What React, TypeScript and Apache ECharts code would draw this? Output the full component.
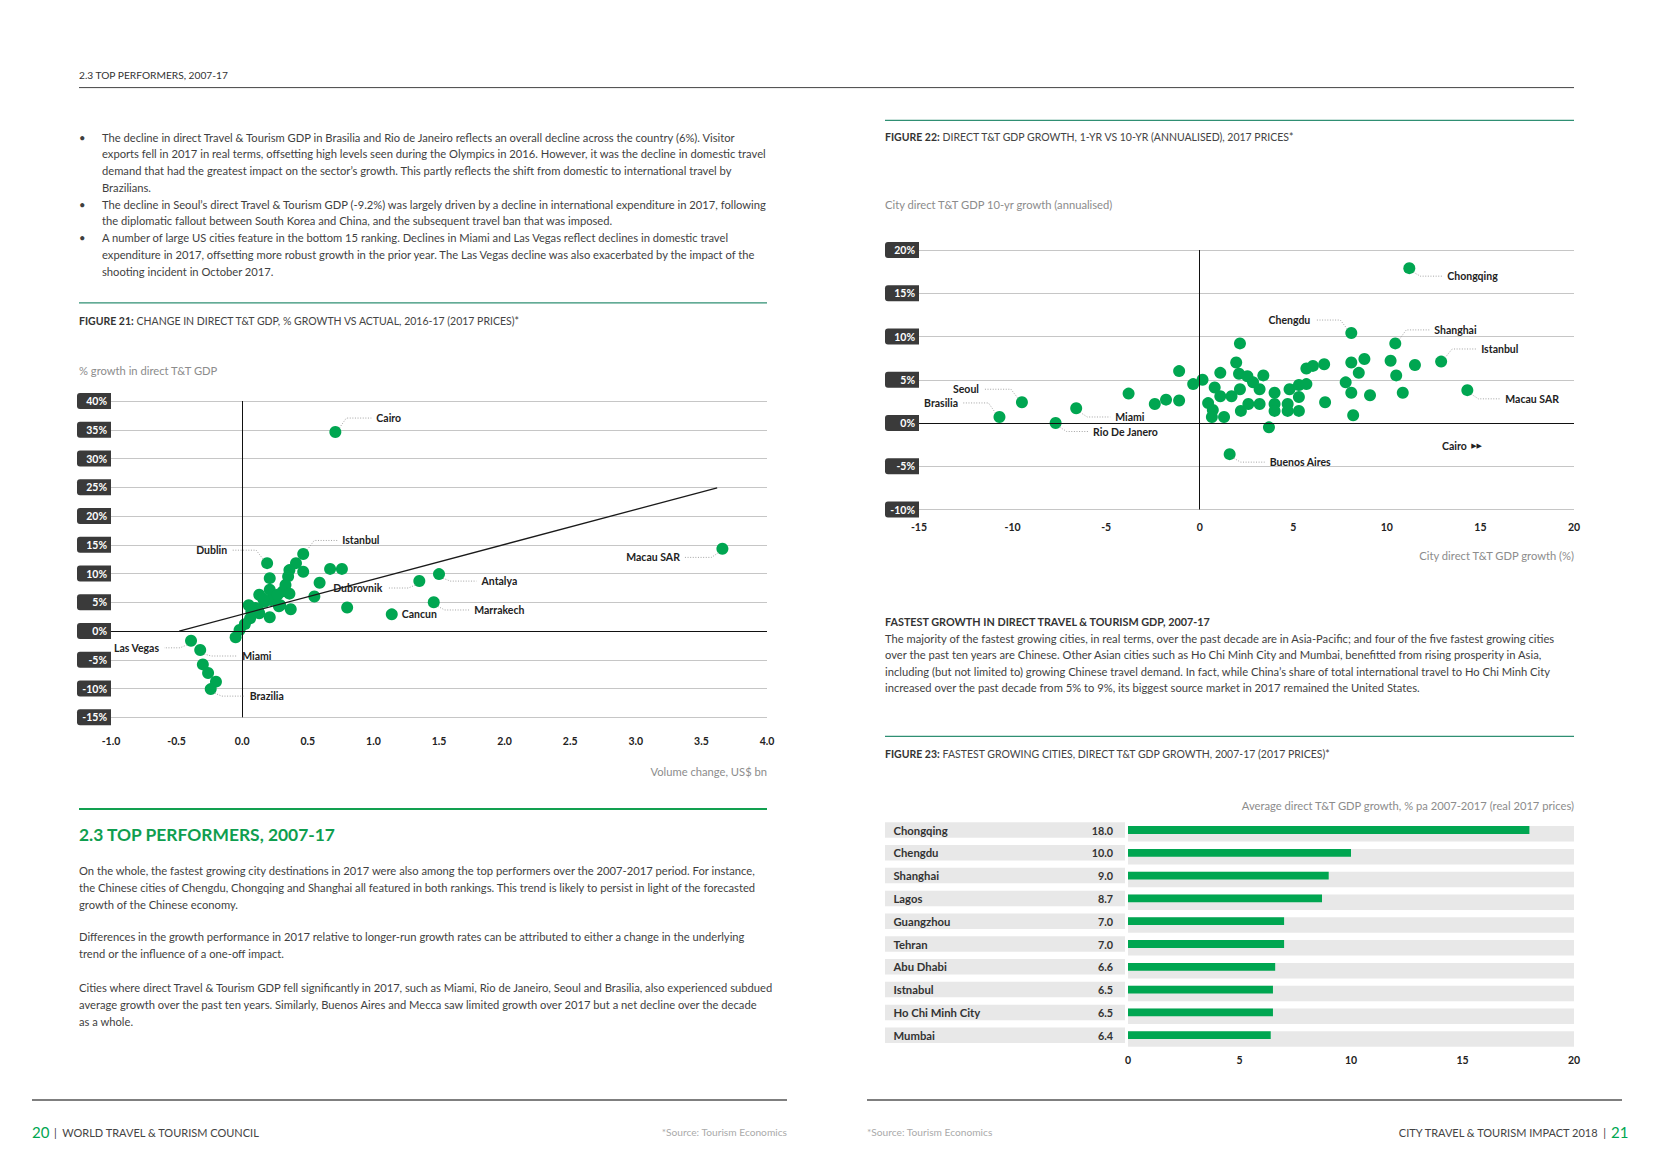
import React, { useEffect, useRef } from "react";
import * as echarts from "echarts";

const GREEN = "#00a651";
const TEAL = "#2f8f73";
const TEXT = "#3f3f3f";
const GREY = "#8c8c8c";
const DARK = "#222222";
const FONT = "Lato, 'Open Sans', 'DejaVu Sans', sans-serif";
const BODY = 11.2;

// ---------- Figure 21: change in direct T&T GDP, % growth vs actual ----------
const fig21XTicks = [-1.0, -0.5, 0.0, 0.5, 1.0, 1.5, 2.0, 2.5, 3.0, 3.5, 4.0];
const fig21YTicks = [-15, -10, -5, 0, 5, 10, 15, 20, 25, 30, 35, 40];
const fig21LabelNames = ["Cairo", "Istanbul", "Dublin", "Dubrovnik", "Antalya", "Marrakech", "Cancun", "Macau SAR", "Las Vegas", "Miami", "Brazilia"];
const fig21LabelX = [0.71, 0.465, 0.19, 1.35, 1.5, 1.46, 1.14, 3.66, -0.39, -0.32, -0.24];
const fig21LabelY = [34.6, 13.4, 11.8, 8.7, 9.9, 5.0, 2.9, 14.3, -1.7, -3.3, -10.1];
const fig21OtherX = [0.8, 0.76, 0.67, 0.59, 0.55, 0.465, 0.41, 0.36, 0.35, 0.33, 0.31, 0.36, 0.37, 0.29, 0.24, 0.21, 0.21, 0.21, 0.17, 0.13, 0.12, 0.07, 0.05, 0.06, 0.02, -0.02, -0.05, -0.3, -0.26, -0.2, 0.13, 0.28, 0.22, 0.16, 0.27, 0.1];
const fig21OtherY = [4.1, 10.8, 10.8, 8.4, 6.0, 10.3, 11.8, 10.6, 9.5, 8.0, 6.9, 6.5, 3.8, 4.5, 5.7, 9.2, 7.2, 2.4, 5.1, 6.3, 3.7, 3.4, 4.5, 2.2, 1.2, 0.2, -1.1, -5.8, -7.3, -8.8, 3.1, 4.3, 5.4, 5.6, 6.3, 4.0];
const fig21TrendX = [-0.48, 3.62];
const fig21TrendY = [0.0, 24.9];

// ---------- Figure 22: 1-yr vs 10-yr growth ----------
const fig22XTicks = [-15, -10, -5, 0, 5, 10, 15, 20];
const fig22YTicks = [-10, -5, 0, 5, 10, 15, 20];
const fig22LabelNames = ["Chongqing", "Chengdu", "Shanghai", "Istanbul", "Macau SAR", "Seoul", "Brasilia", "Miami", "Rio De Janero", "Buenos Aires"];
const fig22LabelX = [11.2, 8.1, 10.45, 12.9, 14.3, -9.5, -10.7, -6.6, -7.7, 1.6];
const fig22LabelY = [17.9, 10.4, 9.2, 7.1, 3.8, 2.4, 0.7, 1.7, 0.0, -3.6];
const fig22OtherX = [-3.8, -2.4, -1.8, -1.1, -1.1, -0.35, 0.15, 0.45, 0.7, 0.65, 0.8, 1.1, 1.1, 1.3, 1.7, 1.95, 2.15, 2.1, 2.15, 2.2, 2.55, 2.6, 2.85, 3.2, 3.2, 3.4, 3.7, 4.0, 4.0, 4.0, 4.7, 4.7, 4.8, 5.3, 5.3, 5.3, 5.7, 5.7, 6.05, 6.65, 6.7, 7.8, 8.1, 8.1, 8.2, 8.5, 8.8, 9.1, 10.2, 10.5, 10.85, 11.5];
const fig22OtherY = [3.4, 2.2, 2.7, 2.6, 6.0, 4.5, 5.0, 2.3, 1.5, 0.7, 4.1, 5.8, 3.1, 0.7, 3.1, 7.0, 9.2, 5.7, 3.9, 1.4, 5.4, 2.2, 4.7, 3.9, 2.2, 5.5, -0.5, 3.5, 2.2, 1.4, 2.2, 1.4, 3.9, 4.4, 3.0, 1.4, 4.5, 6.3, 6.6, 6.8, 2.4, 4.7, 7.0, 3.5, 0.9, 5.8, 7.4, 3.2, 7.2, 5.5, 3.5, 6.7];

// ---------- Figure 23: fastest growing cities ----------
const fig23Cities = ["Chongqing", "Chengdu", "Shanghai", "Lagos", "Guangzhou", "Tehran", "Abu Dhabi", "Istnabul", "Ho Chi Minh City", "Mumbai"];
const fig23Values = [18.0, 10.0, 9.0, 8.7, 7.0, 7.0, 6.6, 6.5, 6.5, 6.4];
const fig23XTicks = [0, 5, 10, 15, 20];

// ---------- label placement (pixel offsets from the point) ----------
type LP = { dx: number; dy: number; align: "left" | "right"; leader?: boolean };
const fig21LabelPos: Record<string, LP> = {
  Cairo: { dx: 41, dy: -14, align: "left" },
  Istanbul: { dx: 39, dy: -13.5, align: "left" },
  Dublin: { dx: -40, dy: -13, align: "right" },
  Dubrovnik: { dx: -37, dy: 7, align: "right" },
  Antalya: { dx: 42.5, dy: 7, align: "left" },
  Marrakech: { dx: 40.5, dy: 7.7, align: "left" },
  Cancun: { dx: 10, dy: 0, align: "left", leader: false },
  "Macau SAR": { dx: -42.5, dy: 8.6, align: "right" },
  "Las Vegas": { dx: -32, dy: 7, align: "right" },
  Miami: { dx: 42, dy: 6, align: "left" },
  Brazilia: { dx: 39, dy: 7, align: "left" },
};
const fig22LabelPos: Record<string, LP> = {
  Chongqing: { dx: 38, dy: 8, align: "left" },
  Chengdu: { dx: -41, dy: -13, align: "right" },
  Shanghai: { dx: 39, dy: -13.5, align: "left" },
  Istanbul: { dx: 40, dy: -12.6, align: "left" },
  "Macau SAR": { dx: 38, dy: 8.7, align: "left" },
  Seoul: { dx: -43, dy: -13, align: "right" },
  Brasilia: { dx: -41.5, dy: -14, align: "right" },
  Miami: { dx: 39, dy: 8.7, align: "left" },
  "Rio De Janero": { dx: 37.5, dy: 8.5, align: "left" },
  "Buenos Aires": { dx: 40, dy: 8, align: "left" },
};

// ---------- page texts ----------
const bulletLines = [
  ["The decline in direct Travel & Tourism GDP in Brasilia and Rio de Janeiro reflects an overall decline across the country (6%). Visitor",
    "exports fell in 2017 in real terms, offsetting high levels seen during the Olympics in 2016. However, it was the decline in domestic travel",
    "demand that had the greatest impact on the sector’s growth. This partly reflects the shift from domestic to international travel by",
    "Brazilians."],
  ["The decline in Seoul’s direct Travel & Tourism GDP (-9.2%) was largely driven by a decline in international expenditure in 2017, following",
    "the diplomatic fallout between South Korea and China, and the subsequent travel ban that was imposed."],
  ["A number of large US cities feature in the bottom 15 ranking. Declines in Miami and Las Vegas reflect declines in domestic travel",
    "expenditure in 2017, offsetting more robust growth in the prior year. The Las Vegas decline was also exacerbated by the impact of the",
    "shooting incident in October 2017."],
];
const topParas = [
  ["On the whole, the fastest growing city destinations in 2017 were also among the top performers over the 2007-2017 period. For instance,",
    "the Chinese cities of Chengdu, Chongqing and Shanghai all featured in both rankings. This trend is likely to persist in light of the forecasted",
    "growth of the Chinese economy."],
  ["Differences in the growth performance in 2017 relative to longer-run growth rates can be attributed to either a change in the underlying",
    "trend or the influence of a one-off impact."],
  ["Cities where direct Travel & Tourism GDP fell significantly in 2017, such as Miami, Rio de Janeiro, Seoul and Brasilia, also experienced subdued",
    "average growth over the past ten years. Similarly, Buenos Aires and Mecca saw limited growth over 2017 but a net decline over the decade",
    "as a whole."],
];
const fastestLines = [
  "The majority of the fastest growing cities, in real terms, over the past decade are in Asia-Pacific; and four of the five fastest growing cities",
  "over the past ten years are Chinese. Other Asian cities such as Ho Chi Minh City and Mumbai, benefitted from rising prosperity in Asia,",
  "including (but not limited to) growing Chinese travel demand. In fact, while China’s share of total international travel to Ho Chi Minh City",
  "increased over the past decade from 5% to 9%, its biggest source market in 2017 remained the United States.",
];

function txt(x: number, y: number, text: string, o: any = {}) {
  return {
    type: "text", x, y, silent: true,
    style: {
      text, fill: o.fill ?? TEXT, fontSize: o.size ?? BODY, fontWeight: o.weight ?? "normal",
      fontFamily: FONT, align: o.align ?? "left", verticalAlign: "middle", rich: o.rich,
    },
  };
}
function hline(x1: number, x2: number, y: number, stroke: string, w: number) {
  return { type: "line", silent: true, shape: { x1, y1: y, x2, y2: y }, style: { stroke, lineWidth: w } };
}
function figTitle(x: number, y: number, bold: string, rest: string) {
  return txt(x, y, `{b|${bold}} {r|${rest}}`, {
    rich: {
      b: { fontWeight: "bold", fontSize: 10.5, fontFamily: FONT, fill: "#333" },
      r: { fontWeight: "normal", fontSize: 10.5, fontFamily: FONT, fill: "#444" },
    },
  });
}

function labelSeries(xi: number, names: string[], xs: number[], ys: number[], pos: Record<string, LP>) {
  return {
    type: "custom", xAxisIndex: xi, yAxisIndex: xi, silent: true, z: 8, clip: false,
    data: names.map((n, i) => [xs[i], ys[i]]),
    renderItem: (params: any, api: any) => {
      const name = names[params.dataIndex];
      const cfg = pos[name];
      const p = api.coord([api.value(0), api.value(1)]);
      const s = cfg.align === "left" ? 1 : -1;
      const lx = p[0] + cfg.dx;
      const ly = p[1] + cfg.dy;
      const children: any[] = [];
      if (cfg.leader !== false) {
        const vy = cfg.dy > 0 ? 1 : -1;
        children.push({
          type: "polyline",
          shape: { points: [[p[0] + s * 4, p[1] + vy * 4], [p[0] + s * 11, ly], [lx - s * 5, ly]] },
          style: { stroke: "#9a9a9a", lineWidth: 0.9, lineDash: [1, 1.6], fill: "none" },
        });
      }
      children.push({
        type: "text", x: lx, y: ly,
        style: { text: name, fill: DARK, fontSize: 10.5, fontWeight: "bold", fontFamily: FONT, align: cfg.align, verticalAlign: "middle" },
      });
      return { type: "group", children };
    },
  };
}

const boxLabel = {
  formatter: "{value}%", margin: 0, color: "#fff", fontWeight: "bold", fontSize: 10.5, fontFamily: FONT,
  backgroundColor: "#3a3a3a", padding: [3, 4, 2, 4], width: 26, align: "right", borderRadius: [3, 0, 0, 3], lineHeight: 11,
};
const xLabel = { fontWeight: "bold", fontSize: 10.5, fontFamily: FONT, color: DARK };

export default function App() {
  const ref = useRef<HTMLDivElement>(null);
  useEffect(() => {
    if (!ref.current) return;
    const chart = echarts.init(ref.current, undefined, { renderer: "svg" });

    const g: any[] = [];
    // header
    g.push(txt(79, 75, "2.3 TOP PERFORMERS, 2007-17", { size: 10.2, fill: "#333" }));
    g.push(hline(79, 1574, 87.6, "#444", 1));
    // bullets
    let li = 0;
    bulletLines.forEach((b) => {
      b.forEach((line, j) => {
        const y = 137.1 + li * 16.75;
        if (j === 0) g.push(txt(79, y, "•"));
        g.push(txt(102, y, line));
        li++;
      });
    });
    // figure 21 header
    g.push(hline(79, 767, 302.8, TEAL, 1.2));
    g.push(figTitle(79, 320.7, "FIGURE 21:", "CHANGE IN DIRECT T&T GDP, % GROWTH VS ACTUAL, 2016-17 (2017 PRICES)*"));
    g.push(txt(79, 370.3, "% growth in direct T&T GDP", { fill: GREY }));
    g.push(txt(767, 771, "Volume change, US$ bn", { fill: GREY, align: "right" }));
    // section 2.3
    g.push(hline(79, 767, 809, "#12a050", 2.2));
    g.push(txt(79, 834.4, "2.3 TOP PERFORMERS, 2007-17", { size: 17.4, weight: "bold", fill: "#0f9e4f" }));
    const pY = [[870.3, 887.2, 904.0], [936.8, 953.6], [987.4, 1004.3, 1021.1]];
    topParas.forEach((p, i) => p.forEach((line, j) => g.push(txt(79, pY[i][j], line))));
    // right page
    g.push(hline(885, 1574, 120.3, TEAL, 1.2));
    g.push(figTitle(885, 137.1, "FIGURE 22:", "DIRECT T&T GDP GROWTH, 1-YR VS 10-YR (ANNUALISED), 2017 PRICES*"));
    g.push(txt(885, 204.7, "City direct T&T GDP 10-yr growth (annualised)", { fill: GREY }));
    g.push(txt(1574, 555, "City direct T&T GDP growth (%)", { fill: GREY, align: "right" }));
    g.push(txt(1442, 446, "{c|Cairo}{a|  ▶▶}", {
      rich: {
        c: { fontWeight: "bold", fontSize: 10.5, fontFamily: FONT, fill: DARK },
        a: { fontSize: 7, fontFamily: "DejaVu Sans", fill: DARK },
      },
    }));
    g.push(txt(885, 621.3, "FASTEST GROWTH IN DIRECT TRAVEL & TOURISM GDP, 2007-17", { weight: "bold", size: 10.8, fill: "#333" }));
    fastestLines.forEach((line, i) => g.push(txt(885, [638.2, 654.6, 671.2, 687.8][i], line)));
    g.push(hline(885, 1574, 736.3, TEAL, 1.2));
    g.push(figTitle(885, 754.3, "FIGURE 23:", "FASTEST GROWING CITIES, DIRECT T&T GDP GROWTH, 2007-17 (2017 PRICES)*"));
    g.push(txt(1574, 805, "Average direct T&T GDP growth, % pa 2007-2017 (real 2017 prices)", { fill: GREY, align: "right" }));
    // footers
    g.push(hline(32, 787, 1100, "#555", 1.3));
    g.push(hline(867, 1622, 1100, "#555", 1.3));
    g.push(txt(32, 1132, "20", { size: 15, fill: GREEN }));
    g.push(txt(54, 1132, "|  WORLD TRAVEL & TOURISM COUNCIL", { size: 11, fill: "#444" }));
    g.push(txt(787, 1132, "*Source: Tourism Economics", { size: 10.2, fill: "#aaa", align: "right" }));
    g.push(txt(867, 1132, "*Source: Tourism Economics", { size: 10.2, fill: "#aaa" }));
    g.push(txt(1606, 1132, "CITY TRAVEL & TOURISM IMPACT 2018  |", { size: 11, fill: "#444", align: "right" }));
    g.push(txt(1611, 1132, "21", { size: 15, fill: GREEN }));

    const f21Data = [
      ...fig21LabelX.map((x, i) => [x, fig21LabelY[i]]),
      ...fig21OtherX.map((x, i) => [x, fig21OtherY[i]]),
    ];
    const f22Data = [
      ...fig22LabelX.map((x, i) => [x, fig22LabelY[i]]),
      ...fig22OtherX.map((x, i) => [x, fig22OtherY[i]]),
    ];
    const zeroLines = {
      silent: true, symbol: "none", label: { show: false },
      lineStyle: { color: "#111", width: 1, type: "solid" },
      data: [{ yAxis: 0 }, { xAxis: 0 }],
    };
    const split = { show: true, lineStyle: { color: "#c6c6c6", width: 1 } };
    const noAxis = { axisLine: { show: false }, axisTick: { show: false } };
    const barLabel = { fontWeight: "bold", fontSize: 11.3, color: "#333", fontFamily: FONT };

    chart.setOption({
      animation: false,
      textStyle: { fontFamily: FONT },
      grid: [
        { left: 111, top: 401, width: 656, height: 316.3 },
        { left: 919, top: 250, width: 655, height: 259.5 },
        { left: 885, top: 818.6, width: 240, height: 228 },
        { left: 1128, top: 818.6, width: 446, height: 228 },
      ],
      xAxis: [
        { gridIndex: 0, type: "value", min: fig21XTicks[0], max: fig21XTicks[fig21XTicks.length - 1], interval: fig21XTicks[1] - fig21XTicks[0],
          axisLabel: { ...xLabel, margin: 18, formatter: (v: number) => v.toFixed(1) }, splitLine: { show: false }, ...noAxis },
        { gridIndex: 1, type: "value", min: fig22XTicks[0], max: fig22XTicks[fig22XTicks.length - 1], interval: fig22XTicks[1] - fig22XTicks[0],
          axisLabel: { ...xLabel, margin: 12 }, splitLine: { show: false }, ...noAxis },
        { gridIndex: 2, type: "value", min: 0, max: 20, show: false },
        { gridIndex: 3, type: "value", min: fig23XTicks[0], max: fig23XTicks[fig23XTicks.length - 1], interval: fig23XTicks[1] - fig23XTicks[0],
          axisLabel: { ...xLabel, margin: 8 }, splitLine: { show: false }, ...noAxis },
      ],
      yAxis: [
        { gridIndex: 0, type: "value", min: fig21YTicks[0], max: fig21YTicks[fig21YTicks.length - 1], interval: fig21YTicks[1] - fig21YTicks[0],
          axisLabel: boxLabel, splitLine: split, ...noAxis },
        { gridIndex: 1, type: "value", min: fig22YTicks[0], max: fig22YTicks[fig22YTicks.length - 1], interval: fig22YTicks[1] - fig22YTicks[0],
          axisLabel: boxLabel, splitLine: split, ...noAxis },
        { gridIndex: 2, type: "category", data: fig23Cities, inverse: true,
          axisLabel: { inside: true, margin: 8.5, ...barLabel }, ...noAxis, z: 5 },
        { gridIndex: 2, type: "category", position: "right", data: fig23Values.map((v) => v.toFixed(1)), inverse: true,
          axisLabel: { inside: true, margin: 12, ...barLabel, fontSize: 10.8 }, ...noAxis, z: 5 },
        { gridIndex: 3, type: "category", data: fig23Cities, inverse: true, show: false },
      ],
      series: [
        { type: "line", xAxisIndex: 0, yAxisIndex: 0, data: [], z: 1, markLine: zeroLines },
        { type: "scatter", xAxisIndex: 0, yAxisIndex: 0, data: f21Data, symbolSize: 12, itemStyle: { color: GREEN, opacity: 1 }, z: 3, silent: true },
        { type: "line", xAxisIndex: 0, yAxisIndex: 0, data: fig21TrendX.map((x, i) => [x, fig21TrendY[i]]), symbol: "none",
          lineStyle: { color: "#1a1a1a", width: 1.3 }, z: 4, silent: true },
        labelSeries(0, fig21LabelNames, fig21LabelX, fig21LabelY, fig21LabelPos),
        { type: "line", xAxisIndex: 1, yAxisIndex: 1, data: [], z: 1, markLine: zeroLines },
        { type: "scatter", xAxisIndex: 1, yAxisIndex: 1, data: f22Data, symbolSize: 12, itemStyle: { color: GREEN, opacity: 1 }, z: 3, silent: true },
        labelSeries(1, fig22LabelNames, fig22LabelX, fig22LabelY, fig22LabelPos),
        { type: "bar", xAxisIndex: 2, yAxisIndex: 2, data: fig23Values, barWidth: 15.5, itemStyle: { color: "rgba(0,0,0,0)" },
          showBackground: true, backgroundStyle: { color: "#e8e8e8" }, silent: true, z: 1 },
        { type: "bar", xAxisIndex: 3, yAxisIndex: 4, data: fig23Values, barWidth: 15.5, itemStyle: { color: "rgba(0,0,0,0)" },
          showBackground: true, backgroundStyle: { color: "#e8e8e8" }, silent: true, z: 1 },
        { type: "bar", xAxisIndex: 3, yAxisIndex: 4, data: fig23Values, barWidth: 7.8, barGap: "-100%", itemStyle: { color: GREEN }, silent: true, z: 2 },
      ],
      graphic: { elements: g },
    });
    return () => chart.dispose();
  }, []);
  return (
    <div ref={ref} style={{ position: "absolute", left: 0, top: 0, width: 1654, height: 1169, background: "#fff" }} />
  );
}
